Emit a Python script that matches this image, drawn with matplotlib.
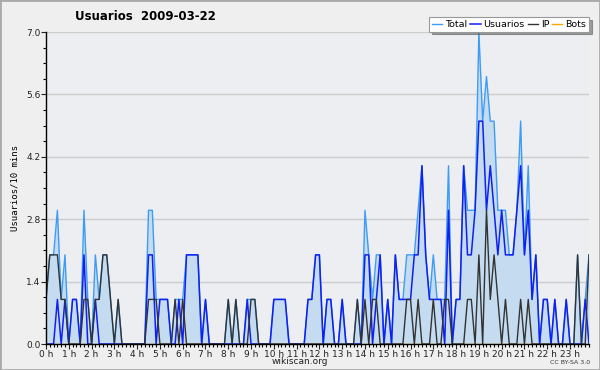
import matplotlib
matplotlib.use('Agg')
import matplotlib.pyplot as plt
from matplotlib.patches import Rectangle
from matplotlib.ticker import MultipleLocator, FixedLocator
import numpy as np

title = 'Usuarios  2009-03-22'
ylabel = 'Usuarios/10 mins'
series_names = ['Total', 'Usuarios', 'IP', 'Bots']
hour_labels = ['{} h'.format(h) for h in range(24)]

# one value every 10 minutes, 144 per day
usuarios = [0, 0, 0, 1, 0, 1, 0, 1, 1, 0,
            2, 0, 0, 1, 0, 0, 0, 0, 0, 0,
            0, 0, 0, 0, 0, 0, 0, 2, 2, 0,
            1, 1, 1, 0, 0, 1, 0, 2, 2, 2,
            2, 0, 1, 0, 0, 0, 0, 0, 0, 0,
            0, 0, 0, 1, 0, 0, 0, 0, 0, 0,
            1, 1, 1, 1, 0, 0, 0, 0, 0, 1,
            1, 2, 2, 0, 1, 1, 0, 0, 1, 0,
            0, 0, 0, 0, 2, 2, 0, 1, 2, 0,
            1, 0, 2, 1, 1, 1, 1, 2, 2, 4,
            2, 1, 1, 1, 1, 0, 3, 0, 1, 1,
            4, 2, 2, 3, 5, 5, 3, 4, 3, 2,
            3, 2, 2, 2, 3, 4, 2, 3, 1, 2,
            0, 1, 1, 0, 1, 0, 0, 1, 0, 0,
            0, 0, 1, 0]

ip = [1, 2, 2, 2, 1, 1, 0, 0, 0, 0,
      1, 1, 0, 1, 1, 2, 2, 1, 0, 1,
      0, 0, 0, 0, 0, 0, 0, 1, 1, 1,
      0, 0, 0, 0, 1, 0, 1, 0, 0, 0,
      0, 0, 0, 0, 0, 0, 0, 0, 1, 0,
      1, 0, 0, 0, 1, 1, 0, 0, 0, 0,
      0, 0, 0, 0, 0, 0, 0, 0, 0, 0,
      0, 0, 0, 0, 0, 0, 0, 0, 0, 0,
      0, 0, 1, 0, 1, 0, 1, 1, 0, 0,
      0, 0, 0, 0, 0, 1, 1, 0, 1, 0,
      0, 0, 1, 0, 0, 1, 1, 0, 0, 0,
      0, 1, 1, 0, 2, 0, 3, 1, 2, 1,
      0, 1, 0, 0, 0, 1, 0, 1, 0, 0,
      0, 0, 0, 0, 0, 0, 0, 0, 0, 0,
      2, 0, 0, 2]

total = [1, 2, 2, 3, 1, 2, 0, 1, 1, 0,
         3, 1, 0, 2, 1, 2, 2, 1, 0, 1,
         0, 0, 0, 0, 0, 0, 0, 3, 3, 1,
         1, 1, 1, 0, 1, 1, 1, 2, 2, 2,
         2, 0, 1, 0, 0, 0, 0, 0, 1, 0,
         1, 0, 0, 1, 1, 1, 0, 0, 0, 0,
         1, 1, 1, 1, 0, 0, 0, 0, 0, 1,
         1, 2, 2, 0, 1, 1, 0, 0, 1, 0,
         0, 0, 1, 0, 3, 2, 1, 2, 2, 0,
         1, 0, 2, 1, 1, 2, 2, 2, 3, 4,
         2, 1, 2, 1, 1, 1, 4, 0, 1, 1,
         4, 3, 3, 3, 7, 5, 6, 5, 5, 3,
         3, 3, 2, 2, 3, 5, 2, 4, 1, 2,
         0, 1, 1, 0, 1, 0, 0, 1, 0, 0,
         2, 0, 1, 2]

bots = [0] * 144

bg = '#efefef'
plot_bg = '#eceef1'
colors = {'Total': '#3d9cf5', 'Usuarios': '#1020f0', 'IP': '#333333', 'Bots': '#ffa500'}

fig = plt.figure(figsize=(6, 3.7), dpi=100, facecolor=bg)
ax = fig.add_axes([46 / 600, 26 / 370, 543 / 600, 312 / 370])
ax.set_facecolor(plot_bg)

x = np.arange(len(total))
ax.fill_between(x, 0, total, color='#c4dbf0', lw=0, zorder=1)
ax.plot(x, bots, color=colors['Bots'], lw=1, zorder=1.5, label='Bots')
ax.plot(x, total, color=colors['Total'], lw=1, zorder=3, label='Total')
ax.plot(x, usuarios, color=colors['Usuarios'], lw=1.1, zorder=4, label='Usuarios')
ax.plot(x, ip, color=colors['IP'], lw=1, zorder=5, label='IP')

ax.set_xlim(0, 143)
ax.set_ylim(0, 7)

ax.yaxis.set_major_locator(FixedLocator([0, 1.4, 2.8, 4.2, 5.6, 7.0]))
ax.yaxis.set_minor_locator(MultipleLocator(0.35))
ax.set_yticklabels(['0.0', '1.4', '2.8', '4.2', '5.6', '7.0'])
ax.xaxis.set_major_locator(FixedLocator(np.arange(0, 144, 6)))
ax.xaxis.set_minor_locator(MultipleLocator(1))
ax.set_xticklabels(hour_labels)

ax.tick_params(axis='both', which='major', direction='out', length=3.5, width=0.8,
               labelsize=6.5, colors='#222222', pad=0.5)
ax.tick_params(axis='both', which='minor', direction='out', length=2.5, width=0.8)
ax.grid(axis='y', which='major', color='#cccccc', lw=1, zorder=0)
ax.set_axisbelow(True)

for side in ['top', 'right']:
    ax.spines[side].set_visible(False)
for side in ['left', 'bottom']:
    ax.spines[side].set_linewidth(1)
    ax.spines[side].set_zorder(6)

ax.set_ylabel(ylabel, family='DejaVu Sans Mono', fontsize=6.5, labelpad=5)
fig.text(75 / 600, 1 - 17 / 370, title, fontsize=8.5, fontweight='bold', va='center', ha='left')

handles, labels = ax.get_legend_handles_labels()
order = [labels.index(n) for n in series_names]
leg = ax.legend([handles[i] for i in order], series_names, loc='upper right',
                bbox_to_anchor=(589 / 600, 1 - 17 / 370), bbox_transform=fig.transFigure,
                ncol=4, fontsize=6.8, frameon=True, fancybox=False, shadow=True,
                handlelength=1.1, handletextpad=0.3, columnspacing=0.3,
                borderpad=0.3, borderaxespad=0)
leg.get_frame().set_edgecolor('#999999')
leg.get_frame().set_facecolor('white')
leg.get_frame().set_linewidth(0.8)

fig.text(0.5, 1 - 362 / 370, 'wikiscan.org', ha='center', va='center', fontsize=6.5, color='#222222')
fig.text(590 / 600, 1 - 362 / 370, 'CC BY-SA 3.0', ha='right', va='center', fontsize=4.5, color='#333333')

fig.patches.append(Rectangle((0, 0), 1, 1, transform=fig.transFigure, fill=False,
                             edgecolor='#aaaaaa', lw=2))

fig.savefig('out.png', dpi=100, facecolor=bg)
